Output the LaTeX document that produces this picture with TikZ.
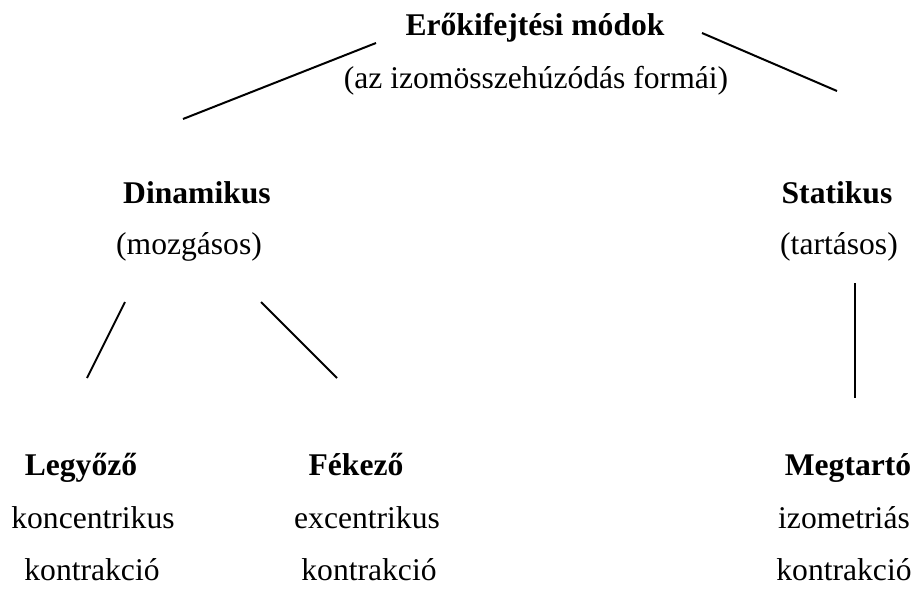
\documentclass[tikz,border=0pt]{standalone}
\usepackage{fontspec}
\setmainfont{Liberation Serif}
\usepackage{tikz}
\usetikzlibrary{positioning}

\begin{document}
\begin{tikzpicture}[x=0.5pt, y=-0.5pt,
  every node/.style={inner sep=0pt, anchor=base, font=\fontsize{15.8}{19}\selectfont},
  head/.style={font=\fontsize{15.8}{19}\selectfont\bfseries},
  link/.style={line width=1pt}]
\useasboundingbox (0,0) rectangle (918,589);
% root
\node[head] (erokif) at (535,35) {Erőkifejtési módok};
\node (formai) at (536,89) {(az izomösszehúzódás formái)};
% second level
\node[head] (dinam) at (197,203) {Dinamikus};
\node (mozg) at (189,254) {(mozgásos)};
\node[head] (stat) at (837,203) {Statikus};
\node (tart) at (839,254) {(tartásos)};
% leaves
\node[head] (legyozo) at (81,475) {Legyőző};
\node (konc) at (93,528) {koncentrikus};
\node (kontr1) at (92,580) {kontrakció};
\node[head] (fekezo) at (356,475) {Fékező};
\node (exc) at (367,528) {excentrikus};
\node (kontr2) at (369,580) {kontrakció};
\node[head] (megtarto) at (848,475) {Megtartó};
\node (izom) at (844,528) {izometriás};
\node (kontr3) at (844,580) {kontrakció};
% line ends
\coordinate (rootL) at (376,43);
\coordinate (dinTop) at (183,119);
\coordinate (rootR) at (702,33);
\coordinate (statTop) at (837,91);
\coordinate (dinL) at (125,302);
\coordinate (legTop) at (87,378);
\coordinate (dinR) at (261,302);
\coordinate (fekTop) at (337,378);
\coordinate (statBot) at (855,283);
\coordinate (megTop) at (855,398);
\foreach \a/\b in {rootL/dinTop, rootR/statTop, dinL/legTop, dinR/fekTop, statBot/megTop}
  \draw[link] (\a) -- (\b);
\end{tikzpicture}
\end{document}
